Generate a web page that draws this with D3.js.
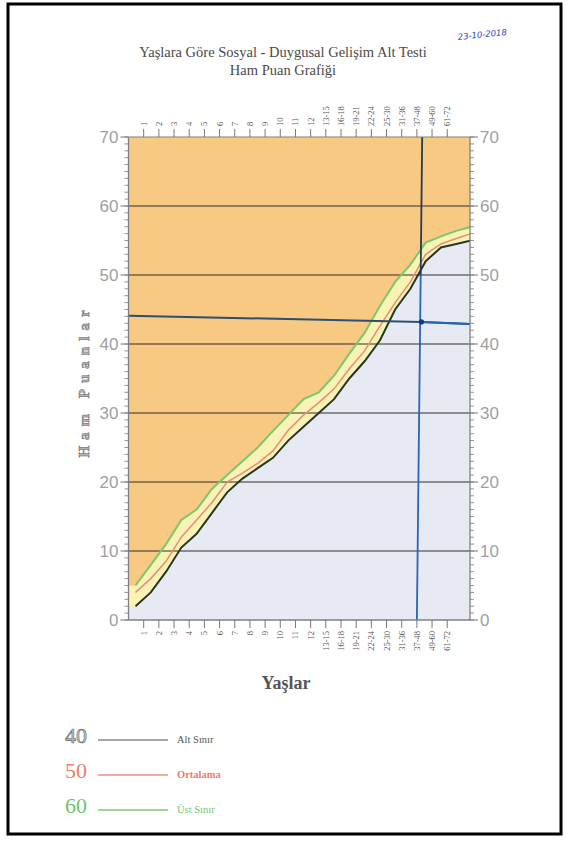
<!DOCTYPE html>
<html>
<head>
<meta charset="utf-8">
<script src="https://cdn.jsdelivr.net/npm/d3@7"></script>
<style>
  html, body { margin: 0; padding: 0; background: #fff; }
  svg { display: block; }
</style>
</head>
<body>
<svg id="chart" width="570" height="841"></svg>
<script>
// ---------- DATA ----------
const ageLabels = ["1","2","3","4","5","6","7","8","9","10","11","12",
  "13-15","16-18","19-21","22-24","25-30","31-36","37-48","49-60","61-72"];
const yTicks = [0,10,20,30,40,50,60,70];
// Series (23 vertices, left to right)
const altSinir   = [2,4,7,10.5,12.5,15.5,18.5,20.5,22,23.5,26,28,30,32,35,37.5,40.5,45,48,52,54,54.5,55];
const ortalama   = [4,6,8.5,12,14.5,17,20,21.3,22.7,24.5,27.5,29.7,31.5,33.5,36.4,39,42.6,46,49,53,54.5,55.3,56];
const ustSinir   = [5,8,11,14.5,16,19,21,23,25,27.4,29.7,32,33,35.4,38.6,41.6,45.5,49,51.5,54.7,55.6,56.4,57];
// hand-drawn marker lines (score ~43, age group "37-48")
const markerScoreIdx = [0, 19.3, 22.5];
const markerScoreVal = [44.1, 43.2, 42.9];
const markerAgeIdx = [19.35, 19.0];
const markerAgeVal = [70, 0];
const legendNumbers = ["40","50","60"];
const legendLabels = ["Alt Sınır","Ortalama","Üst Sınır"];
const titleLines = ["Yaşlara Göre Sosyal - Duygusal Gelişim Alt Testi","Ham Puan Grafiği"];
const dateText = "23-10-2018";

// ---------- LAYOUT ----------
const SERIF = "'Liberation Serif', 'DejaVu Serif', serif";
const svg = d3.select("#chart");
const L = 128.5, R = 470, T = 137, B = 620;
const xTick = d3.scaleLinear().domain([0, 22.5]).range([L, R]);
const xPt = d3.scalePoint().domain(d3.range(altSinir.length)).range([135.5, 471.5]);
const y = d3.scaleLinear().domain([0, 70]).range([B, T]);

const C = {
  orange: "#f8c983", yellow: "#faf3b3", lav: "#e8eaf3",
  green: "#79c86e", red: "#ea8a78", black: "#263626",
  grid: "#2e2e2e", axis: "#808080", text: "#555"
};

// frame
svg.append("rect").attr("x", 8).attr("y", 4).attr("width", 553).attr("height", 830)
  .attr("fill", "none").attr("stroke", "#000").attr("stroke-width", 3);

// titles
svg.selectAll("text.title").data(titleLines).join("text")
  .attr("x", 283).attr("y", (d, i) => 57 + i * 18)
  .attr("text-anchor", "middle")
  .attr("font-family", SERIF).attr("font-size", 14.5)
  .attr("fill", "#4a4a4a").text(d => d);

svg.append("text").attr("transform", "translate(458,40) rotate(-6)")
  .attr("font-family", "'DejaVu Sans', sans-serif").attr("font-style", "italic")
  .attr("font-size", 8.5).attr("fill", "#2747c0").text(dateText);

// clip
svg.append("clipPath").attr("id", "plot").append("rect")
  .attr("x", L).attr("y", T).attr("width", R - L).attr("height", B - T);
const g = svg.append("g").attr("clip-path", "url(#plot)");

g.append("rect").attr("x", L).attr("y", T).attr("width", R - L).attr("height", B - T).attr("fill", C.orange);

const idx = d3.range(altSinir.length);
// extend fills to the left axis with first values
const fillPts = [{x: L, i: 0}].concat(idx.map(i => ({x: xPt(i), i})));
g.append("path").datum(fillPts)
  .attr("d", d3.area().x(d => d.x).y0(y(0)).y1(d => y(altSinir[d.i])))
  .attr("fill", C.lav);
g.append("path").datum(fillPts)
  .attr("d", d3.area().x(d => d.x).y0(d => y(altSinir[d.i])).y1(d => y(ustSinir[d.i])))
  .attr("fill", C.yellow);

// gridlines
g.selectAll("line.grid").data(yTicks.filter(v => v > 0 && v < 70)).join("line")
  .attr("x1", L).attr("x2", R).attr("y1", d => y(d)).attr("y2", d => y(d))
  .attr("stroke", C.grid).attr("stroke-width", 1.2);

// series lines
const line = arr => d3.line().x(i => xPt(i)).y(i => y(arr[i]))(idx);
g.append("path").attr("d", line(ustSinir)).attr("fill", "none").attr("stroke", C.green).attr("stroke-width", 2);
g.append("path").attr("d", line(ortalama)).attr("fill", "none").attr("stroke", C.red).attr("stroke-width", 1.5);
g.append("path").attr("d", line(altSinir)).attr("fill", "none").attr("stroke", C.black).attr("stroke-width", 2);

// marker lines
const hPts = markerScoreIdx.map((d, i) => [xTick(d), y(markerScoreVal[i])]);
g.append("path").attr("d", d3.line()(hPts)).attr("fill", "none").attr("stroke", "#2c4f72").attr("stroke-width", 2);
g.append("path").attr("d", d3.line()(hPts.slice(1))).attr("fill", "none").attr("stroke", "#2466b4").attr("stroke-width", 2);
const vTop = [xTick(markerAgeIdx[0]), y(markerAgeVal[0])];
const vBot = [xTick(markerAgeIdx[1]), y(markerAgeVal[1])];
const vMid = d3.interpolateArray(vTop, vBot)(20 / 70);
g.append("path").attr("d", d3.line()([vTop, vMid])).attr("fill", "none").attr("stroke", "#1f3c58").attr("stroke-width", 1.8);
g.append("path").attr("d", d3.line()([vMid, vBot])).attr("fill", "none").attr("stroke", "#2468b8").attr("stroke-width", 1.8);
svg.append("circle").attr("cx", hPts[1][0]).attr("cy", hPts[1][1]).attr("r", 2.6).attr("fill", "#153c7a");

// plot border
svg.append("line").attr("x1", L).attr("x2", L).attr("y1", T).attr("y2", B).attr("stroke", C.axis).attr("stroke-width", 1.3);
svg.append("line").attr("x1", R).attr("x2", R).attr("y1", T).attr("y2", B).attr("stroke", C.axis).attr("stroke-width", 1.3);
svg.append("line").attr("x1", L).attr("x2", R).attr("y1", T).attr("y2", T).attr("stroke", C.axis).attr("stroke-width", 1);
svg.append("line").attr("x1", L).attr("x2", R).attr("y1", B).attr("y2", B).attr("stroke", C.axis).attr("stroke-width", 1.3);

// y axes (left & right) with minor ticks
const minor = d3.range(0, 71);
[["left", L, -1], ["right", R, 1]].forEach(([side, x0, dir]) => {
  svg.selectAll("line.minor-" + side).data(minor).join("line")
    .attr("x1", x0).attr("x2", x0 + dir * 4)
    .attr("y1", d => y(d)).attr("y2", d => y(d))
    .attr("stroke", "#777").attr("stroke-width", 0.8);
  svg.selectAll("line.major-" + side).data(yTicks).join("line")
    .attr("x1", x0).attr("x2", x0 + dir * 8)
    .attr("y1", d => y(d)).attr("y2", d => y(d))
    .attr("stroke", "#777").attr("stroke-width", 1);
  svg.selectAll("text.ylab-" + side).data(yTicks).join("text")
    .attr("x", x0 + dir * 10).attr("y", d => y(d))
    .attr("dy", "0.36em")
    .attr("text-anchor", dir < 0 ? "end" : "start")
    .attr("font-family", "'Liberation Sans Narrow', 'Liberation Sans', sans-serif")
    .attr("font-size", 17).attr("fill", "#a0a0a0").text(d => d);
});

// x axes top & bottom
const cats = ageLabels.map((d, i) => ({label: d, pos: i + 1}));
[[T, -1], [B, 1]].forEach(([y0, dir]) => {
  svg.selectAll(null).data(cats).join("line")
    .attr("x1", d => xTick(d.pos)).attr("x2", d => xTick(d.pos))
    .attr("y1", y0).attr("y2", y0 + dir * 8)
    .attr("stroke", "#777").attr("stroke-width", 1);
  svg.selectAll(null).data(cats).join("text")
    .attr("transform", d => `translate(${xTick(d.pos)},${y0 + dir * 11}) rotate(-90)`)
    .attr("text-anchor", dir < 0 ? "start" : "end")
    .attr("dy", "0.35em")
    .attr("font-family", SERIF).attr("font-size", 8.5)
    .attr("fill", "#555").text(d => d.label);
});

// axis titles
svg.append("text").attr("x", 286).attr("y", 689).attr("text-anchor", "middle")
  .attr("font-family", SERIF).attr("font-weight", "bold")
  .attr("font-size", 18).attr("fill", "#555").text("Yaşlar");
svg.append("text").attr("transform", "translate(84,381) rotate(-90)")
  .attr("text-anchor", "middle").attr("dy", "0.35em")
  .attr("font-family", SERIF).attr("font-weight", "bold")
  .attr("font-size", 15).attr("letter-spacing", 6)
  .attr("fill", "#b4b4b4").attr("stroke", "#666").attr("stroke-width", 0.5)
  .text("Ham Puanlar");

// legend
const legColors = [["#c8c8c8", "#888", "#555"], ["#ec7e6b", "#ec8f80", "#ec7e6b"], ["#70c46f", "#7cc87c", "#70c46f"]];
const leg = svg.selectAll("g.leg").data(legendNumbers).join("g")
  .attr("transform", (d, i) => `translate(0,${743 + i * 35})`);
leg.append("text").attr("x", 65).attr("y", 0)
  .attr("font-family", SERIF).attr("font-size", 22)
  .attr("fill", (d, i) => legColors[i][0])
  .attr("stroke", (d, i) => i === 0 ? "#666" : "none").attr("stroke-width", 0.6)
  .text(d => d);
leg.append("line").attr("x1", 98).attr("x2", 168).attr("y1", -3).attr("y2", -3)
  .attr("stroke", (d, i) => legColors[i][1]).attr("stroke-width", 1.6);
leg.append("text").attr("x", 177).attr("y", 0)
  .attr("font-family", SERIF).attr("font-size", 10.5)
  .attr("font-weight", (d, i) => i === 1 ? "bold" : "normal")
  .attr("fill", (d, i) => legColors[i][2])
  .text((d, i) => legendLabels[i]);
</script>
</body>
</html>
